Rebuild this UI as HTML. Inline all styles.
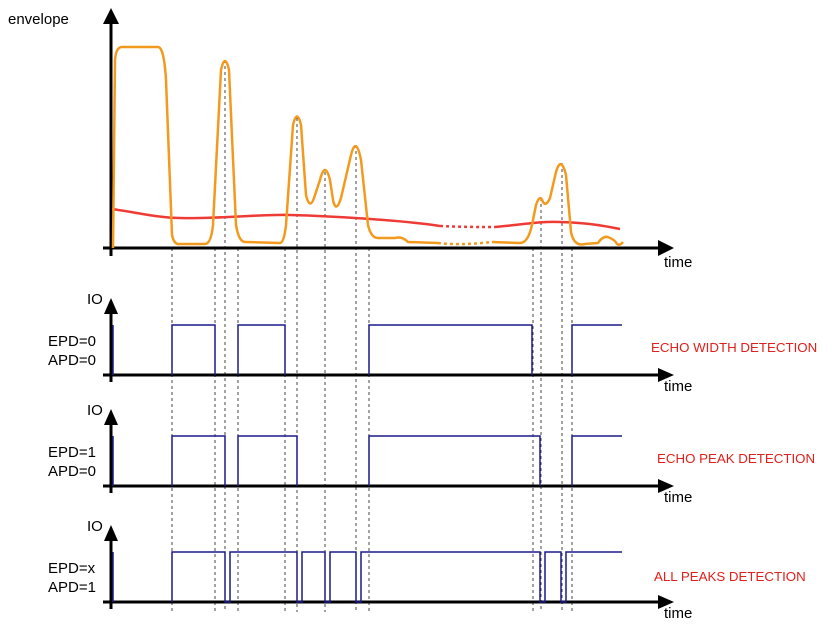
<!DOCTYPE html>
<html><head><style>body{margin:0;background:#fff}svg{display:block}</style></head><body>
<svg width="834" height="636" viewBox="0 0 834 636" xmlns="http://www.w3.org/2000/svg" font-family="Liberation Sans, sans-serif">
<g stroke="#444" stroke-width="1" stroke-dasharray="3,3">
<line x1="172" y1="248" x2="172" y2="612"/><line x1="215" y1="248" x2="215" y2="612"/><line x1="225" y1="60" x2="225" y2="612"/><line x1="238" y1="248" x2="238" y2="612"/><line x1="285" y1="248" x2="285" y2="612"/><line x1="297" y1="118" x2="297" y2="612"/><line x1="325" y1="172" x2="325" y2="612"/><line x1="356" y1="145" x2="356" y2="612"/><line x1="369" y1="248" x2="369" y2="612"/><line x1="533" y1="248" x2="533" y2="612"/><line x1="541" y1="198" x2="541" y2="612"/><line x1="562" y1="163" x2="562" y2="612"/><line x1="572" y1="248" x2="572" y2="612"/>
</g>
<g stroke="#000" stroke-width="3">
<line x1="111" y1="256" x2="111" y2="22"/><path d="M103,24 L111,8 L119,24z" fill="#000" stroke="none"/>
<line x1="103" y1="248" x2="660" y2="248"/><path d="M658,240 L674,248 L658,256z" fill="#000" stroke="none"/>
<line x1="111" y1="382" x2="111" y2="312"/><path d="M104,314 L111,298 L118,314z" fill="#000" stroke="none"/>
<line x1="103" y1="375" x2="660" y2="375"/><path d="M658,368 L674,375 L658,382z" fill="#000" stroke="none"/>
<line x1="111" y1="493" x2="111" y2="423"/><path d="M104,425 L111,409 L118,425z" fill="#000" stroke="none"/>
<line x1="103" y1="486" x2="660" y2="486"/><path d="M658,479 L674,486 L658,493z" fill="#000" stroke="none"/>
<line x1="111" y1="609" x2="111" y2="539"/><path d="M104,541 L111,525 L118,541z" fill="#000" stroke="none"/>
<line x1="103" y1="602" x2="660" y2="602"/><path d="M658,595 L674,602 L658,609z" fill="#000" stroke="none"/>
</g>
<g fill="none" stroke="#ef3b36" stroke-width="2.5">
<path d="M112,209 C140,213 160,218 180,218 C220,219 260,214 290,215 C330,216 400,220 440,226"/>
<path d="M440,226 C460,227 480,227 495,227" stroke-dasharray="3,3"/>
<path d="M495,227 C520,225 540,221 560,222 C590,223 605,226 620,229"/>
</g>
<g fill="none" stroke="#f39a1e" stroke-width="2.5" stroke-linejoin="round">
<path d="M113,248 L115,60 Q116,47 122,47 L158,47 Q164,47 166,80 L172,235 Q174,245 180,244 L205,244 Q211,244 213,225 L221,70 Q225,52 229,70 L236,225 Q239,243 246,242 L280,243 Q284,243 286,225 L293,125 Q297,108 301,125 L306,195 Q310,212 315,195 L320,180 Q325,160 330,180 L333,200 Q336,214 341,198 L351,155 Q356,135 361,160 L368,225 Q371,238 378,238 L395,238 Q402,236 408,242 L438,243"/>
<path d="M438,243 C455,245 475,244 492,242" stroke-dasharray="3,3"/>
<path d="M492,242 L520,243 Q528,243 532,225 L536,205 Q540,193 543,202 Q546,207 550,198 L556,172 Q561,155 566,175 L571,232 Q574,247 585,244 L598,243 Q604,234 610,238 Q615,240 617,244 Q620,246 623,242"/>
</g>
<g fill="none" stroke="#1a1a8c" stroke-width="1.5">
<path d="M113,375 L113,325 M113,486 L113,436 M113,602 L113,552"/>
<path d="M172,375 V325 H215 V375 M238,375 V325 H285 V375 M369,375 V325 H532 V375 M572,375 V325 H622"/>
<path d="M172,486 V436 H225 V486 M238,486 V436 H297 V486 M369,486 V436 H540 V486 M572,486 V436 H622"/>
<path d="M172,602 V552 H225 V602 H230 V552 H297 V602 H302 V552 H325 V602 H330 V552 H356 V602 H361 V552 H540 V602 H545 V552 H561 V602 H566 V552 H622"/>
</g>
<g font-size="15" fill="#000">
<text x="8" y="24">envelope</text>
<text x="664" y="267">time</text>
<text x="664" y="391">time</text>
<text x="664" y="502">time</text>
<text x="664" y="618">time</text>
<text x="87" y="304">IO</text><text x="87" y="415">IO</text><text x="87" y="531">IO</text>
<text x="48" y="346">EPD=0</text><text x="48" y="365">APD=0</text>
<text x="48" y="457">EPD=1</text><text x="48" y="476">APD=0</text>
<text x="48" y="573">EPD=x</text><text x="48" y="592">APD=1</text>
</g>
<g font-size="13.3" fill="#e0201c">
<text x="651" y="352">ECHO WIDTH DETECTION</text>
<text x="657" y="463">ECHO PEAK DETECTION</text>
<text x="654" y="581">ALL PEAKS DETECTION</text>
</g>
</svg>
</body></html>
